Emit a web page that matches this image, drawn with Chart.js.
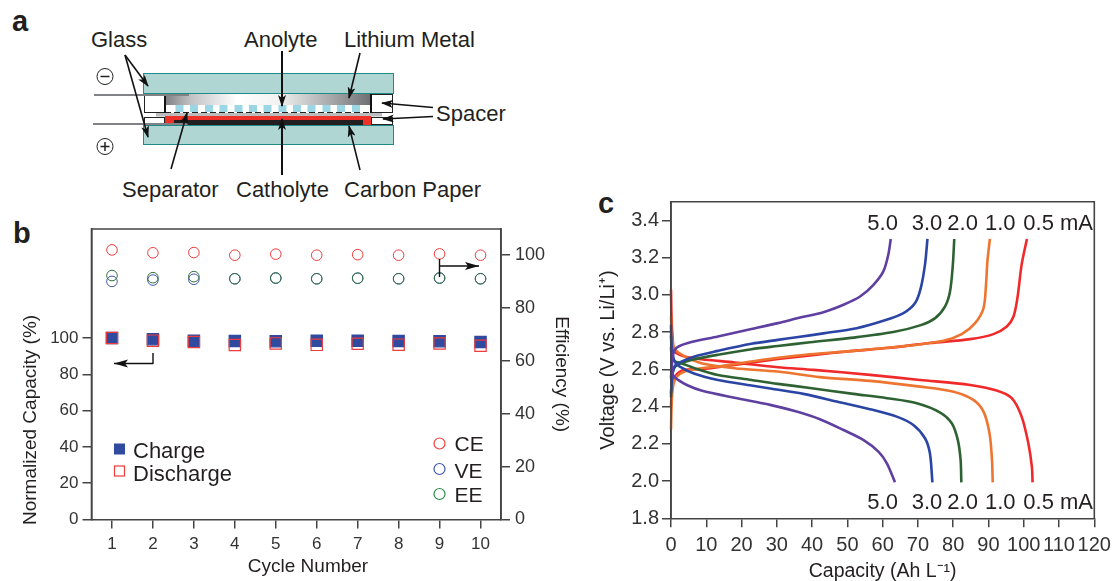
<!DOCTYPE html>
<html>
<head>
<meta charset="utf-8">
<title>Flow battery cell and performance</title>
<script src="https://cdn.jsdelivr.net/npm/chart.js@4"></script>
<style>
  html, body { margin: 0; padding: 0; background: #fff; }
  #page { position: relative; width: 1112px; height: 581px; overflow: hidden; }
  #page canvas, #page svg { position: absolute; left: 0; top: 0; }
  svg text { font-family: "Liberation Sans", Arial, sans-serif; fill: #231f20; }
</style>
</head>
<body>
<div id="page">
  <!-- panel a, the cell schematic -->
  <svg width="1112" height="581" xmlns="http://www.w3.org/2000/svg">
    <defs>
      <linearGradient id="li" x1="0" x2="1" y1="0" y2="0">
        <stop offset="0" stop-color="#7d7f82"/>
        <stop offset="0.12" stop-color="#bfc0c2"/>
        <stop offset="0.35" stop-color="#ffffff"/>
        <stop offset="0.55" stop-color="#f2f2f2"/>
        <stop offset="1" stop-color="#6d6f72"/>
      </linearGradient>
      <marker id="head" viewBox="0 0 12 8" refX="11" refY="4" markerWidth="12" markerHeight="8" markerUnits="userSpaceOnUse" orient="auto">
        <path d="M0 0 L12 4 L0 8 L3 4 Z" fill="#111"/>
      </marker>
    </defs>
    <text x="12" y="31" font-size="29" font-weight="bold">a</text>
    <text x="13" y="243" font-size="29" font-weight="bold">b</text>
    <text x="598" y="213" font-size="29" font-weight="bold">c</text>

    <rect x="143.5" y="73.5" width="250" height="20" fill="#b0d6d3" stroke="#1f8a88"/>
    <rect x="143.5" y="125.5" width="250" height="19" fill="#b0d6d3" stroke="#1f8a88"/>
    <rect x="144.5" y="94.5" width="20" height="18" fill="#fff" stroke="#222"/>
    <rect x="371.5" y="94.5" width="21" height="18" fill="#fff" stroke="#222"/>
    <rect x="144.5" y="117.5" width="20" height="7" fill="#fff" stroke="#222"/>
    <rect x="371.5" y="117.5" width="21" height="7" fill="#fff" stroke="#222"/>
    <rect x="165" y="94" width="206" height="11" fill="url(#li)"/>
    <g fill="#9ad6e3">
      <rect x="175.5" y="105" width="8" height="7"/><rect x="190" y="105" width="8" height="7"/>
      <rect x="205" y="105" width="8" height="7"/><rect x="219.5" y="105" width="8" height="7"/>
      <rect x="234.5" y="105" width="8" height="7"/><rect x="249" y="105" width="8" height="7"/>
      <rect x="263.5" y="105" width="8" height="7"/><rect x="278.5" y="105" width="8" height="7"/>
      <rect x="293" y="105" width="8" height="7"/><rect x="307.5" y="105" width="8" height="7"/>
      <rect x="322.5" y="105" width="8" height="7"/><rect x="337" y="105" width="8" height="7"/>
      <rect x="352" y="105" width="8" height="7"/>
    </g>
    <line x1="165" x2="371" y1="112.5" y2="112.5" stroke="#222" stroke-dasharray="6 3"/>
    <line x1="165" x2="165" y1="94" y2="113" stroke="#111" stroke-width="2"/>
    <line x1="371" x2="371" y1="94" y2="113" stroke="#111" stroke-width="2"/>
    <rect x="156" y="113" width="226" height="3.5" fill="#bcbcbc"/>
    <rect x="165" y="116" width="206" height="9" fill="#ee3129"/>
    <rect x="174" y="120" width="189" height="5" fill="#231f20"/>
    <line x1="94" x2="189" y1="95" y2="95" stroke="#808285" stroke-width="2"/>
    <line x1="93" x2="188" y1="124" y2="124" stroke="#808285" stroke-width="2"/>

    <circle cx="105" cy="76.5" r="8" fill="#fff" stroke="#222"/>
    <line x1="100.5" x2="109.5" y1="76.5" y2="76.5" stroke="#222" stroke-width="1.5"/>
    <circle cx="105" cy="146.5" r="8" fill="#fff" stroke="#222"/>
    <path d="M100.5 146.5 H109.5 M105 142 V151" stroke="#222" stroke-width="1.5"/>

    <g stroke="#111" stroke-width="1.6" marker-end="url(#head)" fill="none">
      <line x1="125" y1="55" x2="148" y2="86"/>
      <line x1="125" y1="55" x2="148" y2="137"/>
      <line x1="282" y1="51" x2="282" y2="106" stroke-width="2"/>
      <line x1="360" y1="53" x2="349" y2="98"/>
      <line x1="433" y1="107.5" x2="382" y2="103"/>
      <line x1="433" y1="116.5" x2="383" y2="119"/>
      <line x1="171" y1="169" x2="187" y2="113"/>
      <line x1="282" y1="175" x2="282" y2="119" stroke-width="2"/>
      <line x1="360" y1="170" x2="349" y2="126"/>
    </g>

    <g font-size="22">
      <text x="91" y="47">Glass</text>
      <text x="244" y="47">Anolyte</text>
      <text x="344" y="47">Lithium Metal</text>
      <text x="436" y="121">Spacer</text>
      <text x="122" y="197">Separator</text>
      <text x="236" y="197">Catholyte</text>
      <text x="344" y="197">Carbon Paper</text>
    </g>
  </svg>
  <canvas id="chartB" width="1112" height="581"></canvas>
  <canvas id="chartC" width="1112" height="581"></canvas>
</div>

<script>
// panel b
const cycles = [1, 2, 3, 4, 5, 6, 7, 8, 9, 10];
const chargeCapacity = [100, 99.3, 98.5, 98.3, 98.2, 98.5, 98.5, 98.3, 98.2, 97.8];
const dischargeCapacity = [100, 98.5, 97.8, 96.1, 97, 96.2, 96.8, 96.3, 96.9, 95.7];
const ceEfficiency = [101.9, 100.8, 100.9, 99.9, 100.3, 99.9, 100.1, 99.9, 100.4, 99.9];
const veEfficiency = [90, 90.5, 90.8, 91, 91.2, 91, 91.2, 91, 91.3, 91];
const eeEfficiency = [92.2, 91.4, 91.8, 91, 91.3, 91, 91.2, 91, 91.2, 91];
const capacityTicks = [0, 20, 40, 60, 80, 100];
const efficiencyTicks = [0, 20, 40, 60, 80, 100];

// panel c, capacity (Ah/L) and voltage (V)
const rate5ChargeCap = [0, 0.2, 0.57, 1.5, 4.8, 13.3, 22.8, 30.3, 36.6, 43.2, 48.9, 53.6, 57.4, 60.2, 61.6, 62.3];
const rate5ChargeV = [2.55, 2.62, 2.678, 2.714, 2.741, 2.776, 2.816, 2.848, 2.878, 2.907, 2.947, 2.991, 3.054, 3.126, 3.215, 3.3];
const rate5DischargeCap = [0, 0.2, 0.57, 2, 4.8, 8.6, 18, 28.1, 35.6, 42.2, 48.9, 54.5, 58.8, 61.2, 63.5];
const rate5DischargeV = [2.72, 2.65, 2.57, 2.543, 2.513, 2.486, 2.447, 2.409, 2.373, 2.332, 2.274, 2.221, 2.158, 2.095, 1.993];

const rate3ChargeCap = [0, 0.3, 1, 2.5, 6.7, 13.3, 22.8, 30.3, 35.6, 43.2, 52.6, 60.2, 65.9, 69.2, 70.8, 72, 72.7];
const rate3ChargeV = [2.47, 2.56, 2.615, 2.637, 2.669, 2.699, 2.737, 2.758, 2.772, 2.793, 2.821, 2.861, 2.902, 2.956, 3.036, 3.162, 3.3];
const rate3DischargeCap = [0, 0.2, 1, 2.5, 6.7, 13.3, 22.8, 28.1, 37.5, 47, 56.4, 64, 68.7, 72, 73.4, 74.1];
const rate3DischargeV = [2.84, 2.72, 2.642, 2.615, 2.576, 2.543, 2.513, 2.497, 2.468, 2.427, 2.386, 2.346, 2.301, 2.23, 2.149, 1.993];

const rate2ChargeCap = [0, 0.3, 1, 2.9, 6.7, 13.3, 22.8, 30.3, 39.4, 51.7, 63, 70.6, 74.9, 77.7, 79.1, 79.9, 80.3];
const rate2ChargeV = [2.45, 2.56, 2.61, 2.633, 2.654, 2.678, 2.708, 2.725, 2.745, 2.77, 2.8, 2.836, 2.875, 2.938, 3.018, 3.162, 3.3];
const rate2DischargeCap = [0, 0.3, 1, 2.9, 6.7, 13.3, 22.8, 30.3, 39.4, 51.7, 61.2, 69.7, 76.3, 79.6, 81.3, 82.1, 82.3];
const rate2DischargeV = [2.78, 2.68, 2.645, 2.633, 2.606, 2.57, 2.543, 2.522, 2.5, 2.468, 2.445, 2.418, 2.368, 2.31, 2.221, 2.113, 1.993];

const rate1ChargeCap = [0, 0.2, 0.57, 1.5, 3.9, 8.6, 13.3, 22.8, 30.3, 39.4, 51.7, 67.8, 77.2, 82.4, 86.2, 88.6, 89.3, 89.7, 90.4];
const rate1ChargeV = [2.275, 2.42, 2.508, 2.558, 2.588, 2.606, 2.615, 2.642, 2.662, 2.681, 2.699, 2.728, 2.753, 2.789, 2.848, 2.929, 3.054, 3.18, 3.3];
const rate1DischargeCap = [0, 0.2, 0.5, 1, 3.9, 8.6, 18, 30.3, 42.2, 56.4, 70.6, 80.1, 85.7, 88.6, 90.3, 91, 91.2];
const rate1DischargeV = [2.884, 2.8, 2.74, 2.708, 2.669, 2.633, 2.606, 2.588, 2.558, 2.538, 2.507, 2.48, 2.436, 2.373, 2.256, 2.113, 1.993];

const rate05ChargeCap = [0, 0.2, 0.57, 1.5, 3.9, 8.6, 18, 30.3, 39.4, 51.7, 61.2, 73.4, 84.8, 91.4, 95.2, 97.1, 98.2, 99.4, 100.9];
const rate05ChargeV = [2.4, 2.48, 2.525, 2.57, 2.597, 2.601, 2.624, 2.655, 2.675, 2.699, 2.714, 2.741, 2.762, 2.789, 2.83, 2.884, 2.982, 3.162, 3.3];
const rate05DischargeCap = [0, 0.15, 0.5, 1, 3.9, 8.6, 18, 30.3, 40.4, 56.4, 70.6, 84.8, 92.3, 96.6, 99.4, 101.3, 102.3, 102.5];
const rate05DischargeV = [3.028, 2.88, 2.76, 2.696, 2.669, 2.654, 2.637, 2.611, 2.597, 2.57, 2.543, 2.516, 2.486, 2.445, 2.346, 2.203, 2.077, 1.993];

const voltageTicks = [1.8, 2.0, 2.2, 2.4, 2.6, 2.8, 3.0, 3.2, 3.4];
const specificCapacityTicks = [0, 10, 20, 30, 40, 50, 60, 70, 80, 90, 100, 110, 120];
const rateLabels = ["5.0", "3.0", "2.0", "1.0", "0.5", "mA"];

const FONT = '"Liberation Sans", Arial, sans-serif';
const INK = "#231f20";
const TICKINK = "#333333";
const AXIS = "#444444";
const RED = "#ee3b3b";
const BLUE = "#2f4a9e";
const VEBLUE = "#3f55ab";
const GREEN = "#2f6f3e";
const PURPLE = "#5f3fa0";
const LINEBLUE = "#2b45a5";
const LINEGREEN = "#2f6233";
const ORANGE = "#ee7530";
const LINERED = "#f02a2a";

// frame round the plot, then legends, arrows and loose text
const overlayPlugin = {
  id: "overlay",
  afterDraw(chart, args, opts) {
    const ctx = chart.ctx;
    const a = chart.chartArea;
    ctx.save();
    ctx.strokeStyle = AXIS;
    ctx.lineWidth = 1.6;
    ctx.beginPath();
    ctx.moveTo(a.left, a.bottom);
    ctx.lineTo(a.left, a.top);
    ctx.lineTo(a.right, a.top);
    ctx.lineTo(a.right, a.bottom);
    ctx.stroke();

    (opts.arrows || []).forEach(ar => {
      ctx.strokeStyle = "#111";
      ctx.fillStyle = "#111";
      ctx.lineWidth = 1.4;
      ctx.beginPath();
      ctx.moveTo(ar.x, ar.y1);
      ctx.lineTo(ar.x, ar.y2);
      ctx.moveTo(ar.x, ar.y);
      ctx.lineTo(ar.tip, ar.y);
      ctx.stroke();
      const dir = ar.tip > ar.x ? 1 : -1;
      ctx.beginPath();
      ctx.moveTo(ar.tip, ar.y);
      ctx.lineTo(ar.tip - dir * 14, ar.y - 4);
      ctx.lineTo(ar.tip - dir * 11, ar.y);
      ctx.lineTo(ar.tip - dir * 14, ar.y + 4);
      ctx.closePath();
      ctx.fill();
    });

    (opts.markers || []).forEach(m => {
      ctx.beginPath();
      ctx.lineWidth = 1.2;
      if (m.kind === "circle") {
        ctx.arc(m.x, m.y, 5.5, 0, Math.PI * 2);
        ctx.strokeStyle = m.color;
        ctx.stroke();
      } else if (m.kind === "fill") {
        ctx.fillStyle = m.color;
        ctx.fillRect(m.x - 5.5, m.y - 5.5, 11, 11);
      } else {
        ctx.strokeStyle = m.color;
        ctx.strokeRect(m.x - 5, m.y - 5, 10, 10);
      }
    });

    (opts.texts || []).forEach(t => {
      ctx.save();
      ctx.font = t.size + "px " + FONT;
      ctx.fillStyle = INK;
      ctx.textBaseline = "alphabetic";
      ctx.textAlign = t.align || "left";
      ctx.translate(t.x, t.y);
      if (t.rotate) ctx.rotate(t.rotate);
      ctx.fillText(t.text, 0, 0);
      ctx.restore();
    });
    ctx.restore();
  }
};

function axisBase(tickList, size, pad, fitSide, fitValue, label) {
  return {
    type: "linear",
    afterBuildTicks: s => { s.ticks = tickList.map(v => ({ value: v })); },
    // the last tick label must not push the plot in from the edge
    afterFit: s => {
      s[fitSide] = fitValue;
      s.paddingLeft = s.paddingRight = s.paddingTop = s.paddingBottom = 0;
    },
    border: { display: true, color: AXIS, width: 1.6 },
    grid: { drawOnChartArea: false, drawTicks: true, tickLength: 9, color: AXIS, lineWidth: 1.5 },
    ticks: {
      autoSkip: false, maxRotation: 0, minRotation: 0, padding: pad, color: TICKINK,
      font: { family: FONT, size: size }, callback: label || (v => String(v))
    }
  };
}

function circles(label, data, color) {
  return {
    label, data: cycles.map((c, i) => ({ x: c, y: data[i] })), yAxisID: "yEff",
    pointStyle: "circle", pointRadius: 5.3, pointBorderWidth: 1, borderColor: color,
    pointBorderColor: color, pointBackgroundColor: "transparent", showLine: false
  };
}

function squares(label, data, fill, stroke) {
  return {
    label, data: cycles.map((c, i) => ({ x: c, y: data[i] })), yAxisID: "yCap",
    pointStyle: "rect", pointRadius: 8, pointBorderWidth: 1.2, borderColor: stroke,
    pointBorderColor: stroke, pointBackgroundColor: fill, showLine: false
  };
}

new Chart(document.getElementById("chartB"), {
  type: "scatter",
  data: {
    datasets: [
      squares("Discharge", dischargeCapacity, "transparent", RED),
      squares("Charge", chargeCapacity, BLUE, BLUE),
      circles("EE", eeEfficiency, GREEN),
      circles("VE", veEfficiency, VEBLUE),
      circles("CE", ceEfficiency, RED)
    ]
  },
  options: {
    responsive: false,
    animation: false,
    layout: { padding: { left: 0, top: 229, right: 539, bottom: 0 } },
    plugins: {
      legend: { display: false },
      tooltip: { enabled: false },
      overlay: {
        arrows: [
          { x: 153, y1: 353, y2: 364, y: 363.5, tip: 114 },
          { x: 439.5, y1: 259, y2: 277, y: 266, tip: 479 }
        ],
        markers: [
          { kind: "fill", x: 119.5, y: 449, color: BLUE },
          { kind: "open", x: 119.5, y: 471, color: RED },
          { kind: "circle", x: 439.5, y: 443.5, color: RED },
          { kind: "circle", x: 439.5, y: 469, color: VEBLUE },
          { kind: "circle", x: 439.5, y: 494, color: "#2e8b4a" }
        ],
        texts: [
          { text: "Charge", x: 133, y: 458, size: 22 },
          { text: "Discharge", x: 133, y: 481, size: 22 },
          { text: "CE", x: 454.5, y: 451, size: 21 },
          { text: "VE", x: 454.5, y: 477.5, size: 21 },
          { text: "EE", x: 454.5, y: 502, size: 21 },
          { text: "Normalized Capacity (%)", x: 36, y: 525, size: 19, rotate: -Math.PI / 2 },
          { text: "Cycle Number", x: 308, y: 572, size: 19, align: "center" }
        ]
      }
    },
    scales: {
      x: Object.assign(axisBase(cycles, 17, 6, "height", 61.5), { min: 0.5, max: 10.5 }),
      yCap: Object.assign(axisBase(capacityTicks, 17, 4, "width", 91.5), { position: "left", min: 0, max: 160 }),
      yEff: Object.assign(axisBase(efficiencyTicks, 18, 5, "width", 72), {
        position: "right", min: 0, max: 109.8,
        title: { display: true, text: "Efficiency (%)", color: INK, font: { family: FONT, size: 19 }, padding: { top: 0, bottom: 0 } }
      })
    }
  },
  plugins: [overlayPlugin]
});

function curve(label, caps, volts, color) {
  return {
    label, data: caps.map((c, i) => ({ x: c, y: volts[i] })), showLine: true,
    borderColor: color, borderWidth: 2.6, pointRadius: 0, tension: 0.3, clip: false
  };
}

new Chart(document.getElementById("chartC"), {
  type: "scatter",
  data: {
    datasets: [
      curve("5.0 mA charge", rate5ChargeCap, rate5ChargeV, PURPLE),
      curve("5.0 mA discharge", rate5DischargeCap, rate5DischargeV, PURPLE),
      curve("3.0 mA charge", rate3ChargeCap, rate3ChargeV, LINEBLUE),
      curve("3.0 mA discharge", rate3DischargeCap, rate3DischargeV, LINEBLUE),
      curve("2.0 mA charge", rate2ChargeCap, rate2ChargeV, LINEGREEN),
      curve("2.0 mA discharge", rate2DischargeCap, rate2DischargeV, LINEGREEN),
      curve("1.0 mA charge", rate1ChargeCap, rate1ChargeV, ORANGE),
      curve("1.0 mA discharge", rate1DischargeCap, rate1DischargeV, ORANGE),
      curve("0.5 mA charge", rate05ChargeCap, rate05ChargeV, LINERED),
      curve("0.5 mA discharge", rate05DischargeCap, rate05DischargeV, LINERED)
    ]
  },
  options: {
    responsive: false,
    animation: false,
    layout: { padding: { left: 596, top: 201.7, right: 17.7, bottom: -2 } },
    plugins: {
      legend: { display: false },
      tooltip: { enabled: false },
      overlay: {
        texts: [867.3, 911.7, 947.3, 985, 1023.3, 1060].flatMap((x, i) => [
          { text: rateLabels[i], x: x, y: 230, size: 22 },
          { text: rateLabels[i], x: x, y: 509, size: 22 }
        ])
      }
    },
    scales: {
      x: Object.assign(axisBase(specificCapacityTicks, 20, 6, "height", 64.7), {
        min: 0, max: 120,
        title: { display: true, text: "Capacity (Ah L\u207B\u00B9)", color: INK, font: { family: FONT, size: 19.5 }, padding: { top: 0, bottom: 0 } }
      }),
      y: Object.assign(axisBase(voltageTicks, 20, 3, "width", 75, v => v.toFixed(1)), {
        position: "left", min: 1.8, max: 3.5,
        title: { display: true, text: "Voltage (V vs. Li/Li\u207A)", color: INK, font: { family: FONT, size: 20 }, padding: { top: 0, bottom: 0 } }
      })
    }
  },
  plugins: [overlayPlugin]
});
</script>
</body>
</html>
